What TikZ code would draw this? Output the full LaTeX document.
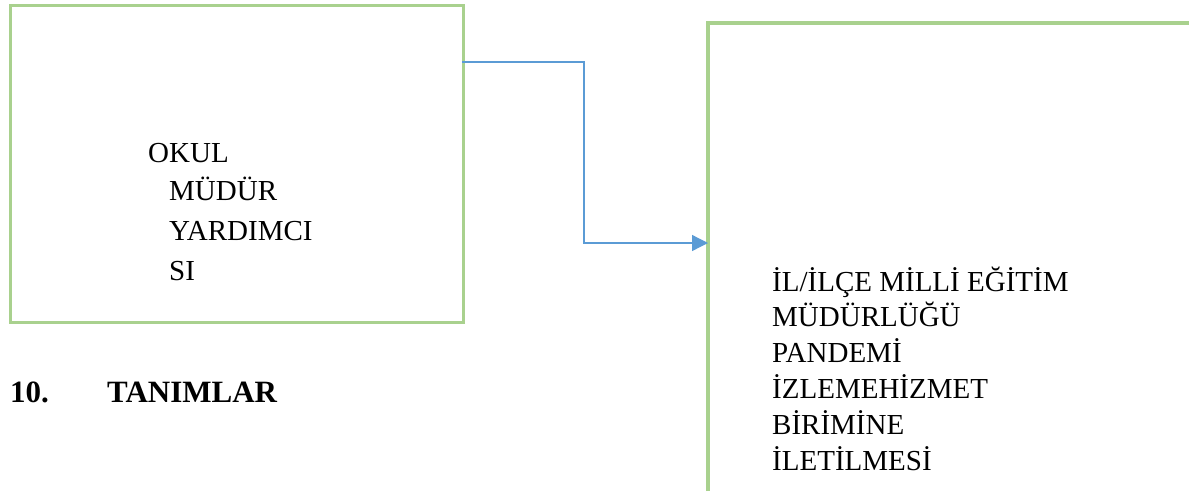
\documentclass[tikz,border=0pt]{standalone}
\usepackage{fontspec}
\setmainfont{Liberation Serif}
\usetikzlibrary{arrows.meta}
\definecolor{boxgreen}{HTML}{A9D18E}
\definecolor{linkblue}{HTML}{5B9BD5}
\tikzset{
  greenframe/.style={draw=boxgreen, line width=3.2pt},
  link/.style={draw=linkblue, line width=1.3pt, -{Triangle[length=16pt,width=16pt]}},
  txt/.style={anchor=base west, inner sep=0pt, font=\fontsize{29}{36}\selectfont},
  head/.style={anchor=base west, inner sep=0pt, font=\fontsize{31}{38}\selectfont\bfseries}
}
\begin{document}
\begin{tikzpicture}[x=1pt,y=-1pt]
\useasboundingbox (0,0) rectangle (1189,491);
% left box
\node[greenframe, rectangle, minimum width=453pt, minimum height=317pt, inner sep=0pt, anchor=north west] (a) at (9,4) {};
\node[txt] (t1) at (148,162) {OKUL};
\node[txt] (t2) at (169,200) {MÜDÜR};
\node[txt] (t3) at (169,240) {YARDIMCI};
\node[txt] (t4) at (169,280) {SI};
% right open box
\coordinate (rb) at (708,491);
\coordinate (rt) at (708,23);
\coordinate (rr) at (1189,23);
\draw[greenframe] (rb) -- (rt) -- (rr);
\coordinate (b) at (708,243);
\coordinate (s) at (462,62);
\coordinate (k1) at (584,62);
\coordinate (k2) at (584,243);
\draw[link] (s) -- (k1) -- (k2) -- (b);
\node[txt] (u1) at (772,291) {İL/İLÇE MİLLİ EĞİTİM};
\node[txt] (u2) at (772,326) {MÜDÜRLÜĞÜ};
\node[txt] (u3) at (772,362) {PANDEMİ};
\node[txt] (u4) at (772,398) {İZLEMEHİZMET};
\node[txt] (u5) at (772,434) {BİRİMİNE};
\node[txt] (u6) at (772,470) {İLETİLMESİ};
% heading
\node[head] (h1) at (10,402) {10.};
\node[head] (h2) at (107,402) {TANIMLAR};
\end{tikzpicture}
\end{document}
